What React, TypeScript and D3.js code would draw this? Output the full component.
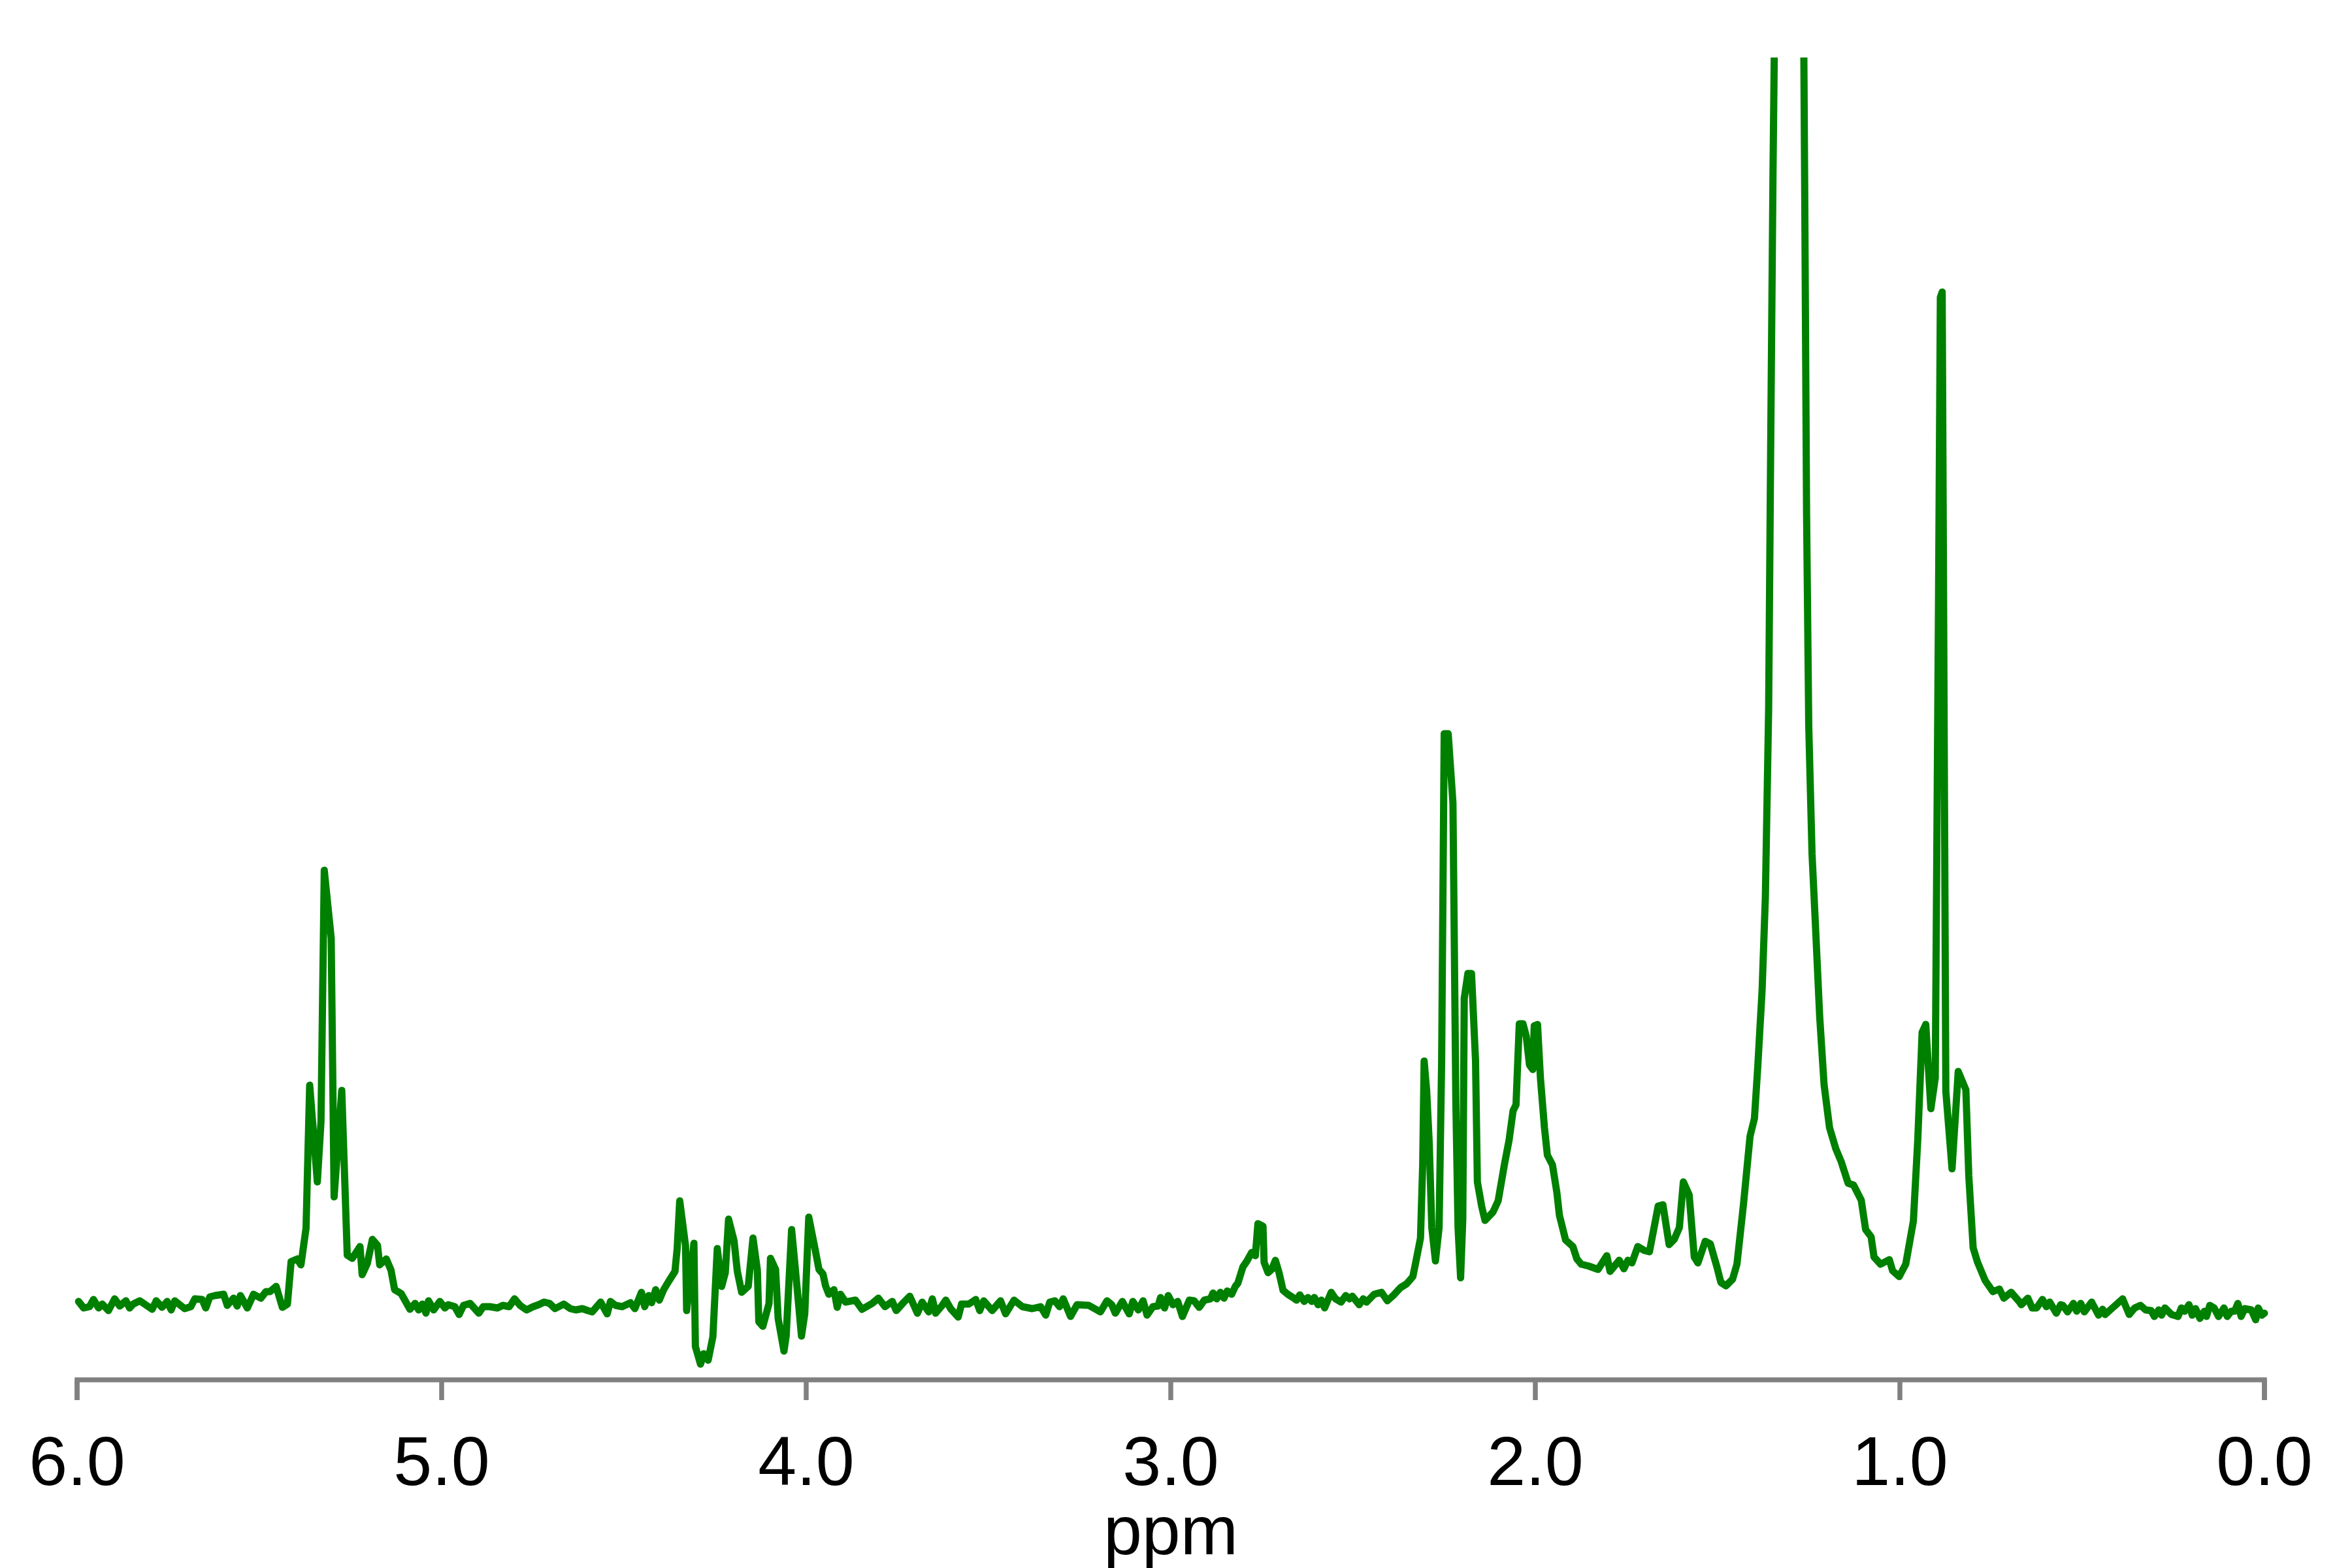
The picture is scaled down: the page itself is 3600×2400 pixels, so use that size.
import React from "react";
import * as d3 from "d3";

// [ppm, intensity (a.u.)], in descending ppm order
const olefinicRegion: [number, number][] = [
  [5.996, 8], [5.982, -2], [5.966, 0], [5.955, 11], [5.941, -2], [5.931, 4], [5.914, -6], [5.897, 12],
  [5.883, 1], [5.866, 9], [5.856, -2], [5.846, 4], [5.828, 9], [5.794, -4], [5.783, 9], [5.767, -1],
  [5.753, 8], [5.742, -5], [5.732, 9], [5.705, -3], [5.688, 0], [5.677, 12], [5.657, 11], [5.647, -2],
  [5.636, 15], [5.622, 17], [5.598, 19], [5.588, 2], [5.571, 13], [5.561, 1], [5.552, 17], [5.533, -2],
  [5.516, 19], [5.496, 13], [5.482, 23], [5.471, 23], [5.454, 31], [5.437, -1], [5.423, 4], [5.413, 69],
  [5.396, 73], [5.386, 64], [5.372, 120], [5.362, 339], [5.341, 191], [5.331, 283], [5.322, 668], [5.303, 564],
  [5.295, 168], [5.274, 331], [5.259, 79], [5.245, 74], [5.224, 92], [5.218, 49], [5.204, 66], [5.19, 103],
  [5.176, 94], [5.17, 64], [5.152, 73], [5.139, 56], [5.129, 26], [5.111, 20], [5.087, -4], [5.073, 5],
  [5.063, -5], [5.053, 4], [5.043, -10], [5.036, 9], [5.022, -5], [5.005, 8],
];

const quietRegion: [number, number][] = [
  [4.991, -2], [4.982, 3], [4.964, 0], [4.952, -12], [4.94, 2], [4.922, 5], [4.898, -10], [4.886, 0],
  [4.868, 0], [4.847, -2], [4.832, 2], [4.815, 0], [4.8, 12], [4.785, 2], [4.767, -5], [4.749, 0],
  [4.734, 3], [4.719, 7], [4.704, 5], [4.689, -3], [4.665, 4], [4.647, -3], [4.632, -5], [4.614, -3],
  [4.599, -6],
];

const glycerolRegion: [number, number][] = [
  [4.587, -8], [4.564, 7], [4.546, -11], [4.537, 8], [4.523, 2], [4.505, 0], [4.482, 6], [4.47, -3],
  [4.452, 22], [4.443, 0], [4.432, 17], [4.424, 6], [4.413, 26], [4.403, 10], [4.391, 26], [4.377, 39],
  [4.36, 54], [4.354, 89], [4.347, 162], [4.331, 93], [4.328, -6], [4.308, 97], [4.304, -61], [4.29, -88],
  [4.281, -72], [4.269, -82], [4.256, -46], [4.244, 89], [4.232, 31], [4.222, 52], [4.213, 134], [4.198, 101],
  [4.189, 54], [4.177, 22], [4.159, 31], [4.146, 105], [4.134, 56], [4.13, -23], [4.119, -30], [4.102, 5],
  [4.098, 74], [4.084, 57], [4.077, -18], [4.061, -68], [4.055, -45], [4.04, 118], [4.025, 29], [4.013, -45],
  [4.004, -11], [3.993, 137], [3.976, 89], [3.965, 57], [3.954, 50], [3.947, 32], [3.938, 19], [3.924, 26],
  [3.915, -1], [3.906, 19], [3.892, 7], [3.865, 10], [3.847, -4], [3.819, 5], [3.802, 13], [3.784, 0],
  [3.764, 8], [3.753, -6], [3.732, 7], [3.716, 16], [3.695, -10], [3.682, 7], [3.664, -8], [3.654, 12],
  [3.645, -10], [3.627, 2], [3.617, 10], [3.604, -3], [3.583, -16], [3.574, 4], [3.554, 4], [3.535, 11],
  [3.524, -6], [3.513, 9], [3.49, -6], [3.467, 9], [3.453, -11], [3.43, 10], [3.407, 0], [3.38, -3],
  [3.357, 0], [3.343, -13], [3.332, 7], [3.318, 9], [3.305, 0], [3.295, 12], [3.275, -15], [3.257, 3],
  [3.225, 2], [3.193, -8], [3.175, 9], [3.162, 3],
];

const bisAllylicRegion: [number, number][] = [
  [3.152, -10], [3.133, 8], [3.114, -11], [3.104, 8], [3.089, -5], [3.076, 9], [3.065, -13], [3.049, 0],
  [3.035, 1], [3.028, 14], [3.017, -2], [3.007, 17], [2.994, 3], [2.981, 8], [2.968, -15], [2.949, 10],
  [2.936, 9], [2.922, -1], [2.908, 10], [2.891, 12], [2.884, 21], [2.874, 12], [2.864, 22], [2.854, 13],
  [2.845, 24], [2.833, 19], [2.823, 31], [2.816, 36], [2.802, 61], [2.792, 69], [2.778, 83], [2.768, 78],
  [2.761, 127], [2.747, 123], [2.744, 68], [2.733, 52], [2.723, 57], [2.713, 71], [2.703, 52], [2.692, 25],
  [2.679, 19], [2.665, 14], [2.655, 10], [2.646, 18], [2.634, 8], [2.624, 14], [2.613, 8], [2.606, 14],
  [2.596, 3], [2.587, 10], [2.578, -2], [2.56, 22], [2.548, 12], [2.533, 7], [2.52, 17], [2.51, 12],
  [2.502, 16], [2.483, 3], [2.472, 12], [2.463, 7], [2.442, 19], [2.422, 22], [2.406, 9], [2.39, 17],
  [2.37, 29], [2.353, 35], [2.336, 46], [2.328, 68], [2.315, 105],
];

const allylicRegion: [number, number][] = [
  [2.309, 217], [2.305, 376], [2.298, 330], [2.291, 250], [2.284, 121], [2.274, 70], [2.264, 121], [2.257, 376],
  [2.25, 877], [2.239, 877], [2.226, 771], [2.218, 312], [2.212, 121], [2.205, 44], [2.199, 134], [2.195, 472],
  [2.185, 510], [2.175, 510], [2.164, 376], [2.159, 191], [2.147, 153], [2.138, 132], [2.126, 139], [2.116, 145],
  [2.102, 162], [2.085, 217], [2.072, 255], [2.061, 300], [2.053, 309], [2.044, 433], [2.034, 433], [2.025, 414],
  [2.016, 370], [2.007, 363], [2.003, 430], [1.994, 432], [1.986, 350], [1.975, 274], [1.967, 232], [1.953, 217],
  [1.941, 175], [1.934, 140], [1.917, 102], [1.897, 92], [1.886, 73], [1.874, 65], [1.853, 62], [1.828, 57],
  [1.804, 78], [1.795, 54], [1.77, 71], [1.757, 58], [1.746, 71], [1.735, 67], [1.719, 92], [1.701, 86],
  [1.687, 84], [1.663, 154], [1.65, 156], [1.633, 95], [1.619, 103], [1.605, 121], [1.594, 191], [1.578, 171],
  [1.564, 76], [1.554, 67], [1.534, 100], [1.52, 96], [1.502, 61], [1.491, 37], [1.477, 32],
];

const methyleneRegion: [number, number][] = [
  [1.459, 42], [1.447, 65], [1.429, 157], [1.411, 261], [1.399, 288], [1.39, 366], [1.378, 484], [1.369, 627],
  [1.36, 915], [1.354, 1346], [1.348, 1739], [1.342, 2050], [1.33, 3000], [1.3, 4200], [1.275, 3000],
  [1.265, 2050], [1.261, 1700], [1.256, 1216], [1.25, 889], [1.241, 693], [1.232, 588], [1.22, 444],
  [1.208, 340], [1.193, 274], [1.176, 242], [1.161, 222], [1.142, 189], [1.127, 186], [1.106, 163],
  [1.094, 118], [1.079, 107], [1.071, 76], [1.053, 65], [1.029, 72], [1.02, 55], [1.002, 46], [0.984, 65],
  [0.963, 131], [0.951, 255], [0.939, 420], [0.929, 432], [0.915, 303], [0.903, 350], [0.894, 1085],
  [0.889, 1545], [0.884, 1553], [0.874, 330], [0.857, 211], [0.84, 360], [0.819, 332], [0.811, 200],
  [0.799, 90],
];

const baselineTail: [number, number][] = [
  [0.787, 68], [0.766, 40], [0.745, 23], [0.727, 27], [0.715, 13], [0.695, 22], [0.673, 8], [0.667, 3],
  [0.649, 13], [0.637, -2], [0.625, -2], [0.609, 11], [0.598, 0], [0.589, 7], [0.571, -10], [0.559, 3],
  [0.553, 2], [0.54, -8], [0.524, 5], [0.515, -7], [0.504, 5], [0.494, -8], [0.474, 7], [0.455, -13],
  [0.444, -4], [0.437, -12], [0.407, 3], [0.389, 12], [0.371, -12], [0.356, -2], [0.34, 2], [0.326, -5],
  [0.311, -6], [0.302, -15], [0.29, -5], [0.282, -13], [0.273, -2], [0.255, -12], [0.237, -15], [0.228, -2],
  [0.219, -7], [0.207, 3], [0.198, -13], [0.189, -3], [0.177, -18], [0.165, -7], [0.159, -15], [0.15, 2],
  [0.138, -2], [0.126, -15], [0.111, -2], [0.102, -15], [0.091, -7], [0.082, -7], [0.073, 5], [0.064, -15],
  [0.054, -3], [0.036, -5], [0.024, -20], [0.017, -2], [0.007, -13], [0.0, -10],
];

const xTicks = [6, 5, 4, 3, 2, 1, 0];
const xDomain: [number, number] = [6, 0];
const yDomain: [number, number] = [0, 1912];
const xLabel = "ppm";

const spectrum = [
  ...olefinicRegion,
  ...quietRegion,
  ...glycerolRegion,
  ...bisAllylicRegion,
  ...allylicRegion,
  ...methyleneRegion,
  ...baselineTail,
];

export default function App() {
  const W = 3600;
  const H = 2400;
  const left = 118;
  const right = 3466;
  const top = 88;
  const baseY = 2000;
  const axisY = 2112;

  const x = d3.scaleLinear().domain(xDomain).range([left, right]);
  const y = d3.scaleLinear().domain(yDomain).range([baseY, top]);

  const line = d3
    .line<[number, number]>()
    .x((d) => x(d[0]))
    .y((d) => y(d[1]))
    .curve(d3.curveLinear);

  const axisColor = "#808080";
  const fontFamily = "'Liberation Sans', Arial, Helvetica, sans-serif";

  return (
    <svg
      width={W}
      height={H}
      viewBox={`0 0 ${W} ${H}`}
      style={{ position: "absolute", left: 0, top: 0, background: "#fff" }}
    >
      <defs>
        <clipPath id="plotClip">
          <rect x={0} y={top} width={W} height={axisY - top} />
        </clipPath>
      </defs>
      <rect x={0} y={0} width={W} height={H} fill="#fff" />
      <g clipPath="url(#plotClip)">
        <path
          d={line(spectrum) || ""}
          fill="none"
          stroke="#008000"
          strokeWidth={11}
          strokeLinejoin="round"
          strokeLinecap="round"
        />
      </g>
      <g>
        <path
          d={`M${x(xDomain[0])},${axisY + 31}V${axisY}H${x(xDomain[1])}V${axisY + 31}`}
          fill="none"
          stroke={axisColor}
          strokeWidth={7.5}
        />
        {xTicks.map((t) => (
          <g key={t}>
            <line x1={x(t)} x2={x(t)} y1={axisY} y2={axisY + 31} stroke={axisColor} strokeWidth={7.5} />
            <text
              x={x(t)}
              y={2273}
              textAnchor="middle"
              fontFamily={fontFamily}
              fontSize={106}
              fill="#000"
            >
              {d3.format(".1f")(t)}
            </text>
          </g>
        ))}
        <text
          x={(left + right) / 2}
          y={2379}
          textAnchor="middle"
          fontFamily={fontFamily}
          fontSize={106}
          fill="#000"
        >
          {xLabel}
        </text>
      </g>
    </svg>
  );
}
